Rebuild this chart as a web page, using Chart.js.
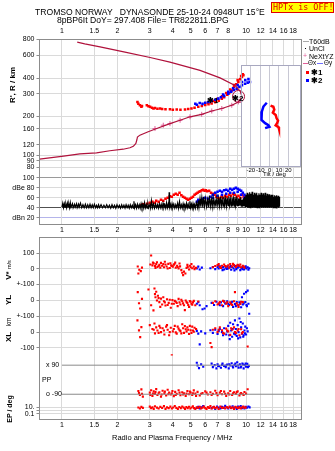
<!DOCTYPE html>
<html>
<head>
<meta charset="utf-8">
<script src="https://cdn.jsdelivr.net/npm/chart.js@4"></script>
<style>
  html, body { margin: 0; padding: 0; background: #fff; }
  #wrap { position: relative; width: 335px; height: 451px; overflow: hidden;
          font-family: 'Liberation Sans', Arial, sans-serif; color: #000; }
  canvas { position: absolute; }
  .t { position: absolute; white-space: pre; line-height: 1; }
  .rot { transform: translate(-50%, -50%) rotate(-90deg); font-weight: bold; }
  .sw { position: absolute; }
</style>
</head>
<body>
<div id="wrap">
  <canvas id="top" width="335" height="240" style="left:0;top:0"></canvas>
  <canvas id="inset" width="75" height="125" style="left:230px;top:60px"></canvas>
  <canvas id="bottom" width="335" height="225" style="left:0;top:226px"></canvas>

  <!-- header -->
  <div class="t" style="left:35px;top:8px;font-size:8.6px">TROMSO NORWAY   DYNASONDE 25-10-24 0948UT 15°E</div>
  <div class="t" style="left:57px;top:16px;font-size:8.6px">8pBP6It DoY= 297.408 File= TR822811.BPG</div>
  <div class="t" style="left:271px;top:2px;width:60px;height:9px;padding:0 0 0 1px;background:#ffff00;border:1px solid #e00000;color:#e00000;font-family:'DejaVu Sans Mono',monospace;font-size:8.4px;line-height:9px">HPTx is OFF!</div>

  <!-- legend -->
  <div class="sw" style="left:303px;top:41px;width:6px;height:1px;background:#aaa"></div>
  <div class="t" style="left:309px;top:38px;font-size:7px">T60dB</div>
  <div class="sw" style="left:305px;top:48px;width:1px;height:1px;background:#000"></div>
  <div class="t" style="left:309px;top:45px;font-size:7px">UnCl</div>
  <div class="t" style="left:303px;top:52px;font-size:7px;color:#e0609a">+</div>
  <div class="t" style="left:309px;top:53px;font-size:7px">NeXtYZ</div>
  <div class="sw" style="left:303px;top:63px;width:5px;height:1px;background:#e0609a"></div>
  <div class="t" style="left:308px;top:60px;font-size:6.3px">Θx</div>
  <div class="sw" style="left:317px;top:63px;width:6px;height:1px;background:#6f6fff"></div>
  <div class="t" style="left:324px;top:60px;font-size:6.3px">Θy</div>
  <div class="sw" style="left:306px;top:71px;width:3px;height:3px;background:#ff0000"></div>
  <div class="t" style="left:311px;top:69px;font-size:8px;font-weight:bold">✱1</div>
  <div class="sw" style="left:306px;top:79px;width:3px;height:3px;background:#0000ff"></div>
  <div class="t" style="left:311px;top:77px;font-size:8px;font-weight:bold">✱2</div>

  <!-- trace markers -->
  <div class="t" style="left:207px;top:97px;font-size:8px;font-weight:bold">✱1</div>
  <div class="t" style="left:232px;top:95px;font-size:8px;font-weight:bold">✱2</div>

  <!-- axis titles -->
  <div class="t rot" style="left:13px;top:85px;font-size:8px">R', R / km</div>
  <div class="t rot" style="left:9px;top:270px;font-size:8px">V* <span style="font-size:5.5px;font-weight:normal">m/s</span></div>
  <div class="t rot" style="left:9px;top:300px;font-size:8px">YL</div>
  <div class="t rot" style="left:9px;top:322px;font-size:6.5px;font-weight:normal">km</div>
  <div class="t rot" style="left:9px;top:337px;font-size:8px">XL</div>
  <div class="t rot" style="left:9px;top:409px;font-size:7px">EP / deg</div>
  <div class="t" style="left:46px;top:361px;font-size:7px">x 90</div>
  <div class="t" style="left:42px;top:376px;font-size:7px">PP</div>
  <div class="t" style="left:46px;top:390px;font-size:7px">o -90</div>
  <div class="t" style="left:263px;top:171px;font-size:6px">Tilt / deg</div>
  <div class="t" style="left:112px;top:434px;font-size:7.5px">Radio and Plasma Frequency / MHz</div>
</div>

<script>
// ---- axes ----
const F_MIN = 0.755, F_MAX = 20;
const freqTicks = [1, 1.5, 2, 3, 4, 5, 6, 7, 8, 9, 10, 12, 14, 16, 18];
const heightTicks = [80, 90, 100, 120, 160, 200, 300, 400, 600, 800];
const ampTicks = [20, 40, 60, 80, 100];
const ampLabels = { 100: '100', 80: 'dBe 80', 60: '60', 40: '40', 20: 'dBn 20' };
const tiltTicks = [-20, -10, 0, 10, 20];

// ---- height panel (MHz, km) ----
// real height profile: bottomside up to foF2, then topside back down in f
const profile = [[0.755,93],[1.02,98],[1.25,102],[1.54,104],[1.82,108],[2.15,111],[2.34,114],[2.44,117],
  [2.52,123],[2.55,131],[2.57,138],[2.65,143],[2.94,152],[3.27,161],[3.86,176],[4.38,187],[4.96,199],
  [5.74,208],[6.51,221],[7.38,231],[8.36,245],[9.08,260],[9.5,285],[9.3,315],[8.71,350],[7.22,401],
  [5.62,459],[3.86,532],[3.01,579],[2.2,638],[1.61,701],[1.33,740],[1.21,764]];
const nextyz = [[3.2,161],[3.55,171],[3.86,176],[4.38,187],[4.96,199],[5.74,208],[6.51,221],[7.38,231],[8.36,245],[9.08,260]];
const thetaMark = [[9.1,287]];
const oTrace = [[2.57,260],[2.6,252],[2.65,245],[2.7,238],[2.72,242],[2.89,245],[2.95,241],[3.01,238],
  [3.08,234],[3.14,231],[3.2,233],[3.3,230],[3.41,231],[3.5,229],[3.65,228],[3.86,228],[4.0,226],
  [4.2,227],[4.4,226],[4.66,227],[4.85,229],[5.05,231],[5.25,234],[5.5,238],[5.75,242],[6.0,246],
  [6.25,249],[6.5,253],[6.8,259],[7.1,266],[7.38,276],[7.6,283],[7.9,296],[8.1,306],[8.36,320],
  [8.6,340],[8.85,358],[9.08,372],[9.3,392],[9.5,408],[9.67,420],
  [6.2,256],[6.6,264],[7.0,275],[7.4,288],[7.8,305],[8.2,325],[8.6,352],[9.0,385],[9.4,415],[9.6,428]];
const xTrace = [[5.3,252],[5.4,247],[5.6,255],[5.8,251],[6.0,256],[6.24,260],[6.5,265],[6.8,270],
  [7.07,276],[7.3,283],[7.6,290],[8.01,302],[8.3,313],[8.6,322],[8.9,330],[9.2,341],[9.5,352],
  [9.88,361],[10.2,368],[10.5,372],
  [7.5,297],[8.0,312],[8.5,333],[9.0,352],[9.5,372],[9.9,385],[10.3,392]];

// ---- amplitude (MHz, dB) ----
const noiseAmp = [[1.0,41],[1.01,49],[1.02,40],[1.03,48],[1.04,41],[1.05,47],[1.06,40],[1.07,49],[1.08,42],
  [1.09,47],[1.1,40],[1.11,50],[1.12,41],[1.14,48],[1.15,40],[1.17,47],[1.18,41],[1.2,48],[1.21,40],
  [1.23,47],[1.24,41],[1.26,49],[1.28,40],[1.3,46],[1.32,40],[1.34,47],[1.36,40],[1.38,46],[1.4,40],
  [1.42,47],[1.44,40],[1.46,46],[1.48,40],[1.5,47],[1.52,40],[1.54,45],[1.56,40],[1.58,46],[1.6,40],
  [1.63,46],[1.66,40],[1.69,45],[1.72,40],[1.75,46],[1.78,40],[1.81,45],[1.84,39],[1.87,46],[1.9,40],
  [1.93,45],[1.96,39],[1.99,46],[2.02,40],[2.05,45],[2.08,39],[2.11,46],[2.14,40],[2.17,45],[2.2,39],
  [2.23,46],[2.26,40],[2.29,45],[2.32,39],[2.35,46],[2.38,40],[2.41,45],[2.44,39],[2.46,53],[2.48,40],
  [2.51,46],[2.54,39],[2.57,47],[2.6,40],[2.63,46],[2.66,39],[2.69,48],[2.72,40],[2.75,47],[2.78,39],
  [2.81,50],[2.84,40],[2.87,46],[2.9,39],[2.93,48],[2.96,40],[3.0,46],[3.03,39],[3.06,54],[3.1,40],
  [3.14,48],[3.18,39],[3.22,47],[3.26,40],[3.3,46],[3.34,39],[3.38,48],[3.42,40],[3.46,47],[3.5,39],
  [3.54,49],[3.58,40],[3.62,46],[3.66,39],[3.7,50],[3.74,40],[3.78,47],[3.81,40],[3.82,71],[3.84,41],
  [3.88,47],[3.92,39],[3.96,48],[4.0,40],[4.05,47],[4.1,39],[4.15,46],[4.2,40],[4.25,49],[4.3,39],
  [4.35,52],[4.4,40],[4.45,46],[4.5,39],[4.55,48],[4.6,40],[4.65,46],[4.7,39],[4.75,49],[4.8,40],
  [4.85,47],[4.9,39],[4.95,53],[5.0,40],[5.05,47],[5.1,39],[5.15,48],[5.2,40],[5.25,46],[5.3,39],
  [5.37,50],[5.45,40],[5.5,55],[5.55,41],[5.62,58],[5.68,42],[5.75,60],[5.82,41],[5.88,62],[5.95,43],
  [6.02,58],[6.1,42],[6.18,56],[6.25,41],[6.32,64],[6.4,43],[6.48,57],[6.55,42],[6.62,60],[6.7,43],
  [6.78,55],[6.86,42],[6.94,60],[7.02,44],[7.1,58],[7.18,43],[7.26,62],[7.34,44],[7.42,57],[7.5,43],
  [7.58,62],[7.66,45],[7.74,58],[7.82,43],[7.9,60],[7.98,44],[8.06,63],[8.14,45],[8.22,57],[8.3,43],
  [8.38,61],[8.46,44],[8.54,58],[8.62,43],[8.7,62],[8.78,45],[8.86,57],[8.94,44],[9.02,60],[9.1,43],
  [9.18,58],[9.26,44],[9.34,61],[9.42,43],[9.5,56],[9.58,42],[9.66,59],[9.74,43],[9.82,62],[9.9,42],
  [9.98,66],[10.06,41],[10.14,70],[10.22,40],[10.3,67],[10.38,41],[10.46,71],[10.54,40],[10.62,68],
  [10.7,41],[10.78,72],[10.86,40],[10.94,66],[11.02,41],[11.1,70],[11.18,40],[11.26,67],[11.34,41],
  [11.42,70],[11.5,40],[11.58,65],[11.66,41],[11.74,69],[11.82,40],[11.9,66],[11.98,41],[12.06,70],
  [12.14,40],[12.22,66],[12.3,41],[12.38,69],[12.46,40],[12.54,65],[12.62,41],[12.7,70],[12.78,40],
  [12.86,64],[12.94,41],[13.02,68],[13.1,40],[13.18,65],[13.26,41],[13.34,67],[13.42,40],[13.5,63],
  [13.58,41],[13.66,66],[13.74,40],[13.82,64],[13.9,41],[13.98,66],[14.06,40],[14.14,62],[14.22,41],
  [14.3,65],[14.38,40],[14.46,63],[14.54,41],[14.62,65],[14.7,40],[14.78,62],[14.86,41],[14.94,64],
  [15.02,40],[15.1,62],[15.2,42]];
const oAmp = [[2.7,45],[2.75,47],[2.8,44],[2.9,48],[3.0,50],[3.05,47],[3.1,52],[3.2,50],[3.25,54],
  [3.35,52],[3.45,56],[3.55,54],[3.65,58],[3.75,60],[3.85,63],[3.95,62],[4.05,66],[4.15,68],[4.25,66],
  [4.35,70],[4.45,65],[4.55,62],[4.65,60],[4.75,58],[4.85,56],[4.95,58],[5.05,60],[5.15,62],[5.25,66],
  [5.35,68],[5.45,70],[5.55,72],[5.65,73],[5.75,75],[5.85,76],[5.95,74],[6.05,75],[6.15,73],[6.3,74],
  [6.45,70],[6.6,68],[6.75,66],[6.9,62],[7.05,60],[7.2,58],[7.35,62],[7.5,60],[7.7,64],[7.9,62],
  [8.1,66],[8.3,64],[8.5,68],[8.7,66],[8.9,62],[9.1,64],[9.3,60],[9.5,66],[9.7,62],[9.85,56],[10.0,52]];
const xAmp = [[5.4,52],[5.5,56],[5.6,54],[5.8,58],[6.0,60],[6.2,58],[6.4,62],[6.6,66],[6.8,70],[7.0,72],
  [7.2,74],[7.4,72],[7.6,75],[7.8,76],[8.0,74],[8.2,78],[8.4,76],[8.6,78],[8.8,80],[9.0,78],[9.2,76],
  [9.4,74],[9.6,70],[9.8,66],[10.0,62],[10.2,58],
  [6.6,60],[7.0,64],[7.4,66],[7.8,68],[8.2,70],[8.6,70],[9.0,72],[9.4,66],[9.8,60]];

// ---- tilt inset (deg, km) ----
const oTilt = [[1,243],[4,238],[5,226],[3.5,214],[6.5,205],[7.5,193],[9,185],[8,177],[6.5,170],[9.5,165],[10,160]];
const xTilt = [[-3,256],[-6.6,239],[-8.3,218],[-9,205],[-8.3,188],[-4.8,177],[-1.3,171],[-0.2,166],[-4.8,162]];

// ---- bottom panel ----
const oVstar = [[2.58,15],[2.6,-30],[2.63,-6],[2.68,-15],[2.72,8],[3.02,28],[3.05,85],[3.1,22],[3.15,35],
  [3.2,18],[3.25,30],[3.3,12],[3.38,25],[3.45,38],[3.5,20],[3.58,10],[3.65,28],[3.7,15],[3.78,32],
  [3.85,5],[3.92,22],[4.0,14],[4.08,30],[4.15,8],[4.22,20],[4.3,2],[4.38,16],[4.45,-8],[4.5,-25],
  [4.55,-40],[4.6,-18],[4.68,-30],[4.75,6],[4.82,12],[4.9,-4],[5.0,10],[5.1,4],[5.2,14],[5.35,6],
  [6.6,10],[6.8,18],[7.0,24],[7.2,12],[7.4,20],[7.6,28],[7.8,14],[8.0,22],[8.2,30],[8.4,16],[8.6,24],
  [8.8,12],[9.0,26],[9.2,18],[9.4,10],[9.6,20],[9.8,8],
  [3.12,40],[3.22,5],[3.28,42],[3.35,18],[3.42,8],[3.55,30],[3.62,45],[3.75,2],[3.88,36],[3.95,18],
  [4.05,26],[4.12,40],[4.25,12],[4.35,34],[4.8,25],[4.95,20],[5.05,30],[5.25,-2],[7.1,30],[7.3,6],
  [7.7,18],[8.1,8],[8.5,32],[8.9,20],[9.3,28],[9.7,14]];
const xVstar = [[5.4,2],[5.5,14],[5.6,-4],[5.75,8],[6.4,4],[6.6,12],[6.8,-2],[7.0,10],[7.1,2],[7.2,16],
  [7.35,6],[7.5,12],[7.6,-4],[7.75,8],[7.9,14],[8.0,2],[8.15,10],[8.3,-6],[8.4,12],[8.55,4],[8.7,18],
  [8.85,-2],[9.0,8],[9.15,14],[9.3,-8],[9.45,6],[9.6,12],[9.75,-4],[9.9,8],[10.05,2],[10.2,10],[10.4,4],
  [7.05,20],[7.45,-8],[7.85,0],[8.25,18],[8.65,-10],[9.05,22],[9.55,-2],[9.95,16],[10.3,-6]];
const oYL = [[2.58,52],[2.62,-17],[2.66,-50],[2.72,10],[2.95,69],[3.05,-30],[3.14,-62],[3.18,75],[3.2,40],
  [3.22,20],[3.25,55],[3.28,0],[3.32,30],[3.38,-10],[3.45,12],[3.5,-25],[3.58,-5],[3.65,-31],[3.72,8],
  [3.8,-15],[3.9,-45],[3.98,2],[4.05,-20],[4.15,-8],[4.25,-35],[4.35,-12],[4.45,5],[4.55,-18],[4.65,-60],
  [4.75,-10],[4.85,-28],[4.95,-4],[5.05,-20],[5.15,-12],[5.3,-30],[5.5,-6],[6.6,-15],[6.8,-5],[7.0,-25],
  [7.2,-10],[7.4,-30],[7.6,-8],[7.8,-20],[8.0,-35],[8.2,-12],[8.4,-28],[8.7,52],[8.9,-18],[9.1,-40],
  [9.3,-22],[9.6,-10],
  [3.35,15],[3.42,-40],[3.55,20],[3.62,-12],[3.75,-28],[3.85,5],[3.95,-20],[4.1,-2],[4.2,-15],[4.3,10],
  [4.4,-25],[4.5,-5],[4.6,-30],[4.7,0],[4.8,-16],[4.9,-40],[5.0,-8],[5.1,-26],[5.2,-2],[7.1,-18],
  [7.5,-2],[7.9,-12],[8.3,-22],[8.6,-5],[9.0,-28],[9.4,-8]];
const xYL = [[5.4,-20],[5.5,-10],[5.6,-30],[5.8,-55],[5.95,-50],[6.1,-35],[6.5,-15],[6.7,-28],[6.9,-8],
  [7.1,-22],[7.3,-12],[7.5,-35],[7.7,-18],[7.9,-5],[8.1,-28],[8.3,-15],[8.5,-40],[8.7,-22],[8.9,-10],
  [9.1,-30],[9.3,-18],[9.5,20],[9.6,-25],[9.75,42],[9.9,-10],[10.0,52],[10.1,-35],[10.2,62],[10.3,-20],[10.4,-83],
  [7.2,-30],[7.6,-5],[8.0,-20],[8.4,-8],[8.8,-35],[9.2,-12],[9.4,-42],[9.7,-18],[10.05,-28]];
const oXL = [[2.57,75],[2.62,11],[2.66,-32],[2.7,32],[3.0,45],[3.1,20],[3.18,55],[3.2,-8],[3.25,30],
  [3.3,10],[3.38,40],[3.45,0],[3.52,25],[3.6,-15],[3.68,35],[3.75,15],[3.82,-20],[3.9,28],[3.95,-149],
  [4.0,5],[4.1,40],[4.2,-10],[4.3,22],[4.4,8],[4.5,50],[4.6,-5],[4.7,18],[4.8,30],[4.9,-12],[5.0,12],
  [5.1,35],[5.2,2],[5.35,20],[6.4,-70],[6.5,-96],[6.6,15],[6.8,25],[7.0,0],[7.2,30],[7.4,12],[7.6,-10],
  [7.8,22],[8.0,5],[8.2,-18],[8.4,15],[8.6,30],[8.8,-5],[9.0,10],[9.2,-20],[9.4,18],[9.6,0],[10.2,-92],
  [3.15,15],[3.35,-5],[3.42,28],[3.58,10],[3.72,45],[3.85,0],[4.05,20],[4.15,-2],[4.25,35],[4.35,12],
  [4.45,-8],[4.55,25],[4.65,38],[4.75,5],[4.85,15],[4.95,40],[5.05,-5],[5.15,10],[5.25,28],[7.1,15],
  [7.5,-5],[7.9,10],[8.3,25],[8.7,0],[9.1,20],[9.5,-8]];
const xXL = [[5.4,8],[5.5,-10],[5.6,-79],[5.7,5],[6.0,-8],[6.4,12],[6.6,-5],[6.8,15],[7.0,-12],[7.2,20],
  [7.4,0],[7.6,25],[7.8,-15],[8.0,40],[8.1,-20],[8.2,60],[8.3,10],[8.4,-30],[8.5,50],[8.6,-10],[8.7,75],
  [8.8,20],[8.9,-25],[9.0,45],[9.1,0],[9.2,87],[9.3,-34],[9.4,30],[9.5,-10],[9.6,55],[9.7,-20],[9.8,10],
  [9.9,35],[10.0,-15],[10.2,5],
  [7.1,8],[7.5,-20],[7.9,5],[8.15,-45],[8.45,20],[8.75,-15],[9.05,-40],[9.35,65],[9.65,-30],[9.85,-8],[10.1,25]];
const oPP = [[2.6,-70],[2.65,-95],[2.7,-60],[2.75,-105],[3.0,-80],[3.05,-65],[3.1,-100],[3.15,-72],
  [3.2,-88],[3.25,-58],[3.3,-95],[3.38,-78],[3.45,-105],[3.52,-68],[3.6,-85],[3.68,-98],[3.75,-62],
  [3.82,-80],[3.9,-92],[3.98,-70],[4.05,-102],[4.12,-75],[4.2,-88],[4.3,-65],[4.4,-96],[4.5,-78],
  [4.6,-85],[4.7,-100],[4.8,-70],[4.9,-90],[5.0,-80],[5.1,-95],[5.2,-66],[5.3,-86],[5.45,-75],[5.6,-98],
  [5.8,-82],[6.0,-72],[6.2,-92],[6.4,-78],[6.6,-88],[6.8,-68],[7.0,-96],[7.2,-80],[7.4,-90],[7.6,-74],
  [7.8,-100],[8.0,-84],[8.2,-70],[8.4,-94],[8.6,-78],[8.8,-88],[9.0,-72],[9.2,-98],[9.4,-82],[9.6,-90],
  [9.8,-76],[10.0,-86],[10.2,-59],
  [2.62,-82],[2.72,-88],[3.02,-95],[3.12,-86],[3.22,-76],[3.35,-84],[3.48,-92],[3.62,-74],[3.78,-90],
  [3.95,-84],[4.15,-95],[4.35,-80],[4.55,-92],[4.75,-86],[4.95,-74],[5.15,-84],[5.35,-100],[5.7,-88],
  [6.1,-80],[6.5,-95],[6.9,-82],[7.3,-70],[7.7,-88],[8.1,-92],[8.5,-84],[8.9,-76],[9.3,-88],[9.7,-95]];
const xPP = [[5.4,105],[5.45,88],[5.55,72],[5.7,95],[5.85,80],[6.5,100],[6.6,78],[6.75,90],[6.9,70],
  [7.0,96],[7.15,84],[7.3,74],[7.45,100],[7.6,86],[7.75,78],[7.9,94],[8.05,70],[8.2,88],[8.35,102],
  [8.5,76],[8.65,92],[8.8,84],[8.95,108],[9.1,74],[9.25,96],[9.4,82],[9.55,100],[9.7,70],[9.85,90],
  [10.0,80],[10.15,98],[10.35,86],
  [7.05,86],[7.4,92],[7.8,88],[8.1,96],[8.45,84],[8.75,100],[9.05,88],[9.35,76],[9.65,94],[9.95,100],[10.25,78]];
const ppRefX = [[1,90],[20,90]];
const ppRefO = [[1,-90],[20,-90]];
const oEP = [[2.6,8],[2.65,4],[2.7,12],[2.75,6],[3.0,15],[3.05,5],[3.1,9],[3.15,3],[3.2,18],[3.28,7],
  [3.35,4],[3.42,12],[3.5,6],[3.58,20],[3.65,3],[3.72,9],[3.8,5],[3.88,14],[3.95,4],[4.02,8],[4.1,22],
  [4.18,6],[4.26,3],[4.34,11],[4.42,5],[4.5,16],[4.58,7],[4.66,3],[4.74,10],[4.82,5],[4.9,13],[4.98,4],
  [5.06,8],[5.14,18],[5.22,5],[5.3,3],[5.4,9],[5.5,6],[5.6,12],[5.7,4],[5.8,7],[5.9,15],[6.0,5],[6.1,3],
  [6.2,10],[6.3,6],[6.4,20],[6.5,4],[6.6,8],[6.7,12],[6.8,5],[6.95,9],[7.1,3],[7.25,14],[7.4,6],[7.55,8],
  [7.7,4],[7.85,11],[8.0,6],[8.15,16],[8.3,5],[8.45,9],[8.6,3],[8.75,12],[8.9,7],[9.05,5],[9.2,10],
  [9.35,4],[9.5,8],[9.65,14],[9.8,6],[9.95,9]];
const xEP = [[5.4,6],[5.5,12],[5.6,4],[5.7,9],[5.85,20],[6.5,5],[6.65,10],[6.8,3],[6.95,15],[7.1,7],
  [7.25,4],[7.4,12],[7.55,6],[7.7,25],[7.85,8],[8.0,4],[8.15,11],[8.3,6],[8.45,18],[8.6,5],[8.75,9],
  [8.9,3],[9.05,14],[9.2,7],[9.35,22],[9.5,5],[9.65,10],[9.8,4],[9.95,13],[10.1,7],[10.3,16],[10.45,9]];

// ---- styling ----
const RED = '#ff0000', BLUE = '#0000ff', CRIMSON = '#b0123c', PINK = '#e0609a';
const GRID = '#dadada', FRAME = '#8c8c8c';
const FONT = { family: "'Liberation Sans', Arial, sans-serif", size: 7 };
Chart.defaults.font.family = FONT.family;

const pts = a => a.map(([x, y]) => ({ x, y }));
const fixTicks = vals => s => { s.ticks = vals.map(v => ({ value: v })); };
const dots = (data, color, axis, r = 1.5) => ({
  data: pts(data), yAxisID: axis, pointStyle: 'rect', pointRadius: r,
  pointBackgroundColor: color, pointBorderWidth: 0, showLine: false
});
const line = (data, color, axis, w = 1) => ({
  data: pts(data), yAxisID: axis, showLine: true, borderColor: color,
  borderWidth: w, pointRadius: 0, tension: 0
});

const freqAxis = (pos, nine, grid, pad) => ({
  type: 'logarithmic', position: pos, min: F_MIN, max: F_MAX,
  afterBuildTicks: fixTicks(freqTicks),
  afterFit: s => { s.height = pos === 'top' ? 39.5 : (grid ? 31.5 : 15.5); },
  ticks: { font: FONT, color: '#000', padding: pad, autoSkip: false, maxRotation: 0,
           callback: v => (v === 9 && !nine) ? '' : String(v) },
  grid: { display: grid, color: GRID, drawTicks: false },
  border: { display: false }
});

const yAxis = (stack, weight, extra) => Object.assign({
  position: 'left', stack, stackWeight: weight,
  afterFit: s => { s.width = 39.5; },
  ticks: { font: FONT, color: '#000', padding: 2, autoSkip: false },
  border: { display: false },
  grid: { color: GRID, tickLength: 3, tickColor: FRAME }
}, extra);

const frame = color => ({
  id: 'frame',
  afterDraw(c) {
    const a = c.chartArea, ctx = c.ctx;
    ctx.save();
    ctx.strokeStyle = color; ctx.lineWidth = 1;
    ctx.strokeRect(a.left, a.top, a.width, a.height);
    ctx.restore();
  }
});

// white panel under the tilt inset (same box as the inset canvas chart area)
const INSET = { left: 241.5, top: 65.5, w: 59, h: 101 };
const insetPanel = {
  id: 'insetPanel',
  beforeDatasetsDraw(c) {
    c.ctx.save();
    c.ctx.fillStyle = '#fff';
    c.ctx.fillRect(INSET.left, INSET.top, INSET.w, INSET.h);
    c.ctx.restore();
  }
};

const base = {
  responsive: false, animation: false, events: [],
  plugins: { legend: { display: false }, tooltip: { enabled: false } }
};

// ---- top: heights + amplitudes ----
new Chart(document.getElementById('top'), {
  type: 'scatter',
  data: { datasets: [
    line(noiseAmp, '#000', 'amp', 1.2),
    dots(xAmp, BLUE, 'amp', 1.8),
    dots(oAmp, RED, 'amp', 1.8),
    line(profile, CRIMSON, 'h', 1.2),
    { data: pts(nextyz), yAxisID: 'h', pointStyle: 'cross', pointRadius: 2.5,
      pointBorderColor: PINK, pointBorderWidth: 1 },
    { data: pts(thetaMark), yAxisID: 'h', pointStyle: 'circle', pointRadius: 6,
      pointBorderColor: CRIMSON, pointBackgroundColor: 'rgba(0,0,0,0)', pointBorderWidth: 1 },
    dots(xTrace, BLUE, 'h', 1.8),
    dots(oTrace, RED, 'h', 1.8)
  ] },
  options: Object.assign({}, base, {
    layout: { padding: { left: 0, right: 33.5, top: 0, bottom: 0 } },
    scales: {
      amp: yAxis('top', 52, {
        type: 'linear', min: 6.4, max: 110.4,
        afterBuildTicks: fixTicks(ampTicks),
        ticks: { font: FONT, color: '#000', padding: 2, autoSkip: false, callback: v => ampLabels[v] },
        grid: { tickLength: 3, tickColor: FRAME,
                color: c => ({ 100: '#9a9a9a', 40: '#505050', 20: '#b4b4ea' })[c.tick.value] || GRID }
      }),
      h: yAxis('top', 133, {
        type: 'logarithmic', min: 73, max: 800,
        afterBuildTicks: fixTicks(heightTicks),
        ticks: { font: FONT, color: '#000', padding: 2, autoSkip: false, callback: v => String(v) }
      }),
      x: freqAxis('top', false, true, 4),
      x2: freqAxis('bottom', true, false, 1)
    }
  }),
  plugins: [insetPanel, frame(FRAME)]
});

// ---- tilt inset ----
new Chart(document.getElementById('inset'), {
  type: 'scatter',
  data: { datasets: [
    line(xTilt, BLUE, 'y', 2.5),
    line(oTilt, RED, 'y', 2.5)
  ] },
  options: Object.assign({}, base, {
    layout: { padding: { left: 11.5, right: 4.5, top: 5.5, bottom: 0 } },
    scales: {
      x: { type: 'linear', min: -30, max: 33,
           afterBuildTicks: fixTicks(tiltTicks),
           afterFit: s => { s.height = 18.5; },
           ticks: { font: { size: 6 }, color: '#000', padding: 0, autoSkip: false, maxRotation: 0 },
           grid: { color: '#c8c8d4', drawTicks: false }, border: { display: false } },
      y: { type: 'logarithmic', min: 81, max: 501, display: false }
    }
  }),
  plugins: [frame('#a8a8c0')]
});

// ---- bottom: drift velocities, positions, polarization, errors ----
new Chart(document.getElementById('bottom'), {
  type: 'scatter',
  data: { datasets: [
    line(ppRefX, '#8a8a8a', 'pp', 1),
    line(ppRefO, '#8a8a8a', 'pp', 1),
    dots(oVstar, RED, 'v'), dots(xVstar, BLUE, 'v'),
    dots(oYL, RED, 'yl'), dots(xYL, BLUE, 'yl'),
    dots(oXL, RED, 'xl'), dots(xXL, BLUE, 'xl'),
    dots(oPP, RED, 'pp'), dots(xPP, BLUE, 'pp'),
    dots(oEP, RED, 'ep'), dots(xEP, BLUE, 'ep')
  ] },
  options: Object.assign({}, base, {
    layout: { padding: { left: 0, right: 33.5, top: 11.5, bottom: 0 } },
    scales: {
      ep: yAxis('bot', 18, {
        type: 'logarithmic', min: 0.002, max: 500,
        afterBuildTicks: fixTicks([0.1, 1, 10]),
        ticks: { font: FONT, color: '#000', padding: 2, autoSkip: false,
                 callback: v => ({ 10: '10.', 1: '', 0.1: '0.1' })[v] }
      }),
      pp: yAxis('bot', 46, {
        type: 'linear', min: -135, max: 150,
        afterBuildTicks: fixTicks([90, -90]),
        ticks: { font: FONT, padding: 2, callback: () => '' },
        grid: { display: false }
      }),
      xl: yAxis('bot', 39, {
        type: 'linear', min: -150, max: 100,
        afterBuildTicks: fixTicks([0, -100]),
        ticks: { font: FONT, color: '#000', padding: 2, autoSkip: false,
                 callback: v => String(v) }
      }),
      yl: yAxis('bot', 32, {
        type: 'linear', min: -100, max: 100,
        afterBuildTicks: fixTicks([0, -100]),
        ticks: { font: FONT, color: '#000', padding: 2, autoSkip: false,
                 callback: v => v === 0 ? '0' : '+-100' }
      }),
      v: yAxis('bot', 47, {
        type: 'linear', min: -100, max: 200,
        afterBuildTicks: fixTicks([100, 0, -100]),
        ticks: { font: FONT, color: '#000', padding: 2, autoSkip: false,
                 callback: v => v === -100 ? '+-100' : String(v) }
      }),
      x: freqAxis('bottom', false, true, 1)
    }
  }),
  plugins: [frame(FRAME)]
});
</script>
</body>
</html>
